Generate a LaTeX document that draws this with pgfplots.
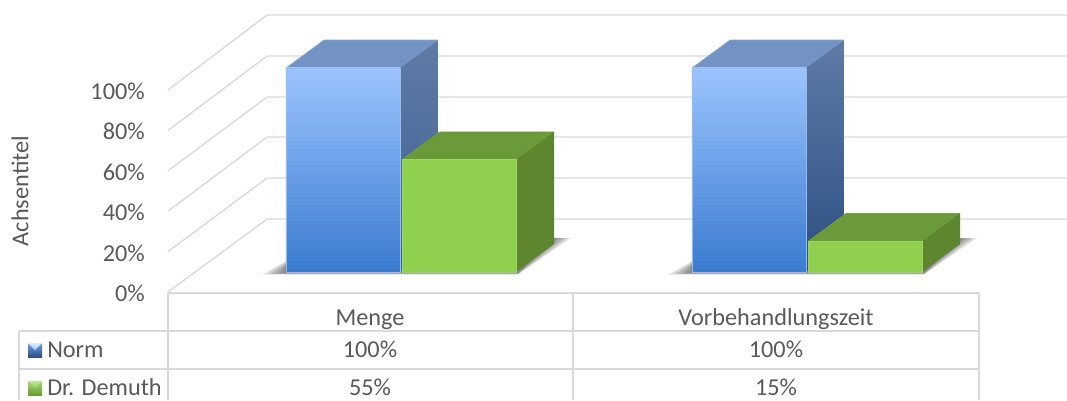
\documentclass[border=0pt]{standalone}
\usepackage{fontspec}
\setmainfont{Carlito}
\usepackage{pgfplots}
\pgfplotsset{compat=1.18}
\definecolor{gridc}{HTML}{D9D9D9}
\definecolor{txt}{HTML}{595959}
\definecolor{blueT}{HTML}{9CC4FF}
\definecolor{blueM}{HTML}{6E9FE6}
\definecolor{blueB}{HTML}{3A7BCF}
\definecolor{blueTop}{HTML}{7393C4}
\definecolor{blueSide}{HTML}{5F7BA6}
\definecolor{blueSideB}{HTML}{2B4F82}
\definecolor{greenF}{HTML}{8FD14F}
\definecolor{greenTop}{HTML}{6C9A3A}
\definecolor{greenSide}{HTML}{5E862E}
\pgfplotsset{
  every axis/.append style={
    scale only axis, width=800.25pt, height=300pt, clip=false,
    axis line style={draw=none}, tick style={draw=none}, major tick length=0pt,
  },
  wall/.style={draw=gridc, line width=1pt, no markers, forget plot},
}
\newcommand{\lab}{\fontsize{18.2}{20}\selectfont\color{txt}}
% soft shadow under one group of bars, #1 is the offset in pixels
\newcommand{\barshadow}[1]{%
  \pgfplotsinvokeforeach{0,0.2,0.4,0.6,0.8,1}{%
    \fill[black, opacity=.1]
      (axis cs:{690-22*##1+#1},{273+1.5*##1}) -- (axis cs:{924+#1},{273+1.5*##1})
      -- (axis cs:{962+15*##1+#1},238) -- (axis cs:{700+#1},240)
      -- (axis cs:{692+#1},{266-5*##1}) -- cycle;
  }%
}
\begin{document}
\begin{tikzpicture}
\path[use as bounding box] (0,0) rectangle (800.25pt,300pt);

% wall: y in percent, x in image pixels
\begin{axis}[
  xmin=0, xmax=1067, ymin=-53.465, ymax=144.554,
  xtick=\empty,
  ytick={0,20,40,60,80,100},
  yticklabels={0\%,20\%,40\%,60\%,80\%,100\%},
  yticklabel style={anchor=east, inner sep=0pt, xshift=108.75pt, yshift=-1pt, font=\lab},
  ylabel={Achsentitel},
  every axis y label/.style={at={(axis cs:20,50)}, rotate=90, anchor=center, font=\lab},
]
\addplot[wall] coordinates {(168,0) (267,36.1) (1067,36.1)};
\addplot[wall] coordinates {(168,20) (267,56.4) (1067,56.4)};
\addplot[wall] coordinates {(168,40) (267,76.7) (1067,76.7)};
\addplot[wall] coordinates {(168,60) (267,96.5) (1067,96.5)};
\addplot[wall] coordinates {(168,80) (267,116.8) (1067,116.8)};
\addplot[wall] coordinates {(168,100) (267,137.1) (1067,137.1)};
\end{axis}

% shadows and data table: x and y in image pixels
\begin{axis}[
  xmin=0, xmax=1067, ymin=0, ymax=400, y dir=reverse,
  xtick=\empty, ytick=\empty,
]
\barshadow{-406}
\barshadow{0}
% table rules
\draw[gridc, line width=1pt] (axis cs:168,293) -- (axis cs:979,293);
\draw[gridc, line width=1pt] (axis cs:19,331) -- (axis cs:979,331);
\draw[gridc, line width=1pt] (axis cs:19,369) -- (axis cs:979,369);
\draw[gridc, line width=1pt] (axis cs:19,331) -- (axis cs:19,400);
\draw[gridc, line width=1pt] (axis cs:168,293) -- (axis cs:168,400);
\draw[gridc, line width=1pt] (axis cs:573,293) -- (axis cs:573,400);
\draw[gridc, line width=1pt] (axis cs:979,293) -- (axis cs:979,400);
% table text
\node[font=\lab, inner sep=0pt, anchor=base] at (axis cs:370,325) {Menge};
\node[font=\lab, inner sep=0pt, anchor=base] at (axis cs:776,325) {Vorbehandlungszeit};
\node[font=\lab, inner sep=0pt, anchor=base west] at (axis cs:47,357.5) {Norm};
\node[font=\lab, inner sep=0pt, anchor=base west] at (axis cs:47,395) {Dr. Demuth};
\node[font=\lab, inner sep=0pt, anchor=base] at (axis cs:370,357.5) {100\%};
\node[font=\lab, inner sep=0pt, anchor=base] at (axis cs:776,357.5) {100\%};
\node[font=\lab, inner sep=0pt, anchor=base] at (axis cs:370,395) {55\%};
\node[font=\lab, inner sep=0pt, anchor=base] at (axis cs:776,395) {15\%};
% legend keys
\shade[top color=blueM, bottom color=blueSideB] (axis cs:28,343) rectangle (axis cs:42,357);
\shade[top color=white!70!blueT, bottom color=blueT] (axis cs:28,343) -- (axis cs:42,343) -- (axis cs:35,350) -- cycle;
\shade[top color=greenF!80!white, bottom color=greenTop] (axis cs:28,381) rectangle (axis cs:42,395);
\shade[top color=greenF!55!white, bottom color=greenF] (axis cs:28,381) -- (axis cs:42,381) -- (axis cs:35,388) -- cycle;
\end{axis}

% bars: y in percent, x is the category number
\begin{axis}[
  xmin=-0.98768, xmax=1.64039, ymin=-62.745, ymax=133.333,
  xtick=\empty, ytick=\empty,
]
% Menge
\addplot[fill=blueTop, draw=blueTop!80!white, line width=.5pt, line join=round, forget plot]
  coordinates {(-0.2833,100) (-0.0025,100) (0.0911,113.7) (-0.1897,113.7) (-0.2833,100)};
\addplot[top color=blueSide, bottom color=blueSideB!60!blueSide, draw=none, forget plot]
  coordinates {(-0.0025,100) (0.0911,113.7) (0.0911,13.7) (-0.0025,0) (-0.0025,100)};
\addplot[ybar, bar width=0.2808, bar shift=-0.1429, top color=blueT, middle color=blueM, bottom color=blueB,
  draw=blueM!70!white, line width=.5pt, forget plot] coordinates {(0,100)};
\addplot[fill=greenTop, draw=greenTop!85!greenF, line width=.5pt, line join=round, forget plot]
  coordinates {(0.0025,55) (0.2833,55) (0.3769,68.7) (0.0961,68.7) (0.0025,55)};
\addplot[fill=greenSide, draw=none, forget plot]
  coordinates {(0.2833,55) (0.3769,68.7) (0.3769,13.7) (0.2833,0) (0.2833,55)};
\addplot[ybar, bar width=0.2808, bar shift=0.1429, fill=greenF, draw=greenF!90!white, line width=.5pt, forget plot]
  coordinates {(0,55)};
% Vorbehandlungszeit
\addplot[fill=blueTop, draw=blueTop!80!white, line width=.5pt, line join=round, forget plot]
  coordinates {(0.7167,100) (0.9975,100) (1.0911,113.7) (0.8103,113.7) (0.7167,100)};
\addplot[top color=blueSide, bottom color=blueSideB, draw=none, forget plot]
  coordinates {(0.9975,100) (1.0911,113.7) (1.0911,13.7) (0.9975,0) (0.9975,100)};
\addplot[ybar, bar width=0.2808, bar shift=-0.1429, top color=blueT, middle color=blueM, bottom color=blueB,
  draw=blueM!70!white, line width=.5pt, forget plot] coordinates {(1,100)};
\addplot[fill=greenTop, draw=greenTop!85!greenF, line width=.5pt, line join=round, forget plot]
  coordinates {(1.0025,15) (1.2833,15) (1.3769,28.7) (1.0961,28.7) (1.0025,15)};
\addplot[fill=greenSide, draw=none, forget plot]
  coordinates {(1.2833,15) (1.3769,28.7) (1.3769,13.7) (1.2833,0) (1.2833,15)};
\addplot[ybar, bar width=0.2808, bar shift=0.1429, fill=greenF, draw=greenF!90!white, line width=.5pt, forget plot]
  coordinates {(1,15)};
\end{axis}
\end{tikzpicture}
\end{document}
